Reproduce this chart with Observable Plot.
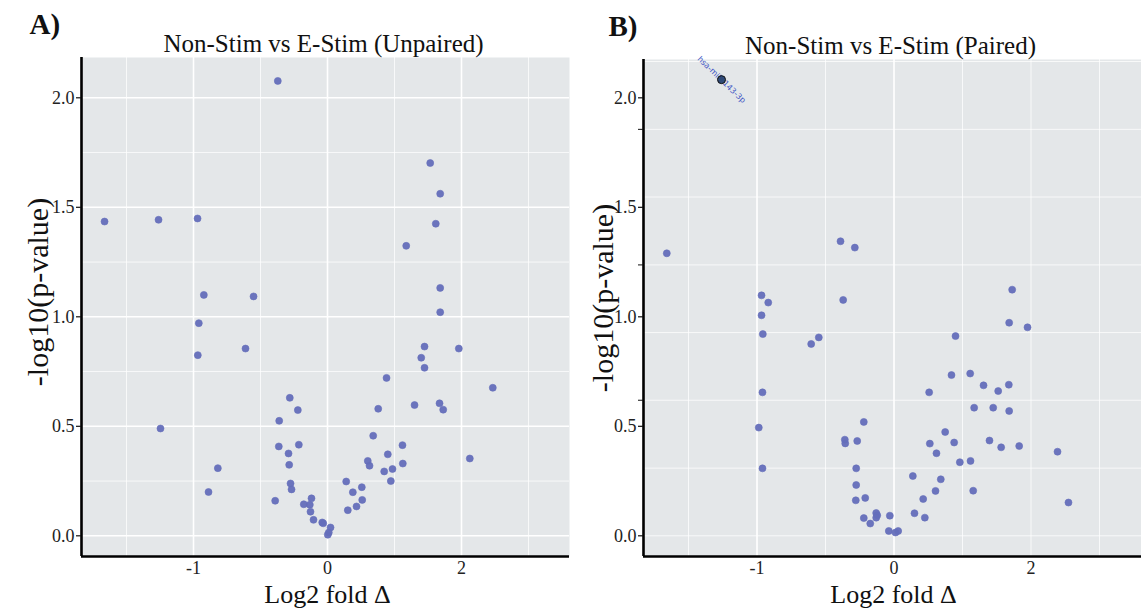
<!DOCTYPE html>
<html>
<head>
<meta charset="utf-8">
<script src="https://cdn.jsdelivr.net/npm/d3@7"></script>
<script src="https://cdn.jsdelivr.net/npm/@observablehq/plot@0.6"></script>
<style>
  html, body { margin: 0; padding: 0; background: #ffffff; }
  #wrap { position: relative; width: 1141px; height: 613px; overflow: hidden; }
  #wrap svg { position: absolute; top: 0; }
</style>
</head>
<body>
<div id="wrap"></div>
<script>
// ---- Data ----
const unpairedLog2FC = [-0.742,-3.328,-2.522,-1.940,-1.846,-1.104,-1.921,-1.936,-1.224,-2.493,-1.637,-1.776,
  -0.563,-0.443,-0.721,-0.727,-0.428,-0.582,-0.572,-0.552,-0.537,-0.781,-0.354,-0.264,-0.239,-0.254,-0.209,
  -0.079,-0.064,0.019,0.045,0.004,0.279,0.303,0.378,0.433,0.512,0.518,0.682,0.601,0.627,0.757,0.846,0.900,
  0.945,0.970,1.119,1.124,1.299,1.672,1.727,2.124,2.467,1.533,1.682,1.616,1.175,1.682,1.682,1.448,1.960,
  1.399,1.448,0.881];
const unpairedNegLog10P = [2.077,1.435,1.443,1.449,1.100,1.093,0.971,0.825,0.855,0.490,0.309,0.200,
  0.630,0.574,0.525,0.408,0.416,0.376,0.324,0.239,0.212,0.160,0.144,0.142,0.171,0.110,0.073,
  0.061,0.057,0.015,0.038,0.005,0.248,0.117,0.199,0.134,0.222,0.164,0.457,0.342,0.320,0.580,0.294,0.372,
  0.250,0.305,0.414,0.330,0.597,0.605,0.576,0.353,0.676,1.702,1.562,1.425,1.324,1.132,1.021,0.864,0.855,
  0.813,0.767,0.721];

const pairedLog2FC = [-3.317,-0.781,-0.572,-0.742,-1.934,-1.836,-1.934,-1.915,-1.098,-1.209,-1.920,-0.441,
  -1.974,-0.718,-0.712,-0.537,-1.920,-0.552,-0.552,-0.420,-0.558,-0.441,-0.347,-0.260,-0.245,-0.260,-0.061,
  -0.076,0.022,0.061,1.725,1.681,1.949,0.898,0.839,1.112,1.307,1.521,1.676,0.513,1.170,1.448,1.681,0.747,
  0.523,0.878,1.394,1.564,1.827,2.387,0.620,0.961,1.117,0.275,0.683,0.606,1.156,0.426,2.547,0.299,0.450];
const pairedNegLog10P = [1.290,1.345,1.316,1.077,1.098,1.065,1.007,0.921,0.906,0.876,0.655,0.520,
  0.494,0.439,0.422,0.433,0.308,0.308,0.232,0.173,0.162,0.081,0.056,0.104,0.094,0.083,0.092,
  0.022,0.015,0.022,1.124,0.973,0.952,0.912,0.734,0.741,0.687,0.661,0.690,0.655,0.585,0.585,0.570,0.474,
  0.421,0.426,0.435,0.404,0.410,0.384,0.377,0.336,0.342,0.273,0.258,0.205,0.206,0.168,0.152,0.103,0.083];

const highlightName = ["hsa-miR-143-3p"];
const highlightLog2FC = [-2.518];
const highlightNegLog10P = [2.083];

const xTickValues = [-2, 0, 2];
const xTickLabels = ["-1", "0", "2"];
const yTickValues = [0, 0.5, 1, 1.5, 2];
const pairedMinorYTicks = [0.619, 1.237, 1.856];

const gridXMajorA = [-2, 0, 2];
const gridXMinorA = [-3, -1, 1, 3];
const gridYMajorA = [0, 0.5, 1, 1.5, 2];
const gridYMinorA = [0.25, 0.75, 1.25, 1.75];
const gridXMajorB = [-2, 0];
const gridXMinorB = [-3, -1, 1, 2, 3];
const gridYB = [0, 0.309, 0.619, 0.928, 1.237, 1.547, 1.856, 2.166];

const panelTitles = ["Non-Stim vs E-Stim (Unpaired)", "Non-Stim vs E-Stim (Paired)"];
const panelLetters = ["A)", "B)"];
const xLabel = "Log2 fold \u0394";
const yLabel = "-log10(p-value)";

// ---- Build tables ----
const unpaired = unpairedLog2FC.map((x, i) => ({x, y: unpairedNegLog10P[i]}));
const paired = pairedLog2FC.map((x, i) => ({x, y: pairedNegLog10P[i]}));
const highlight = highlightName.map((name, i) => ({name, x: highlightLog2FC[i], y: highlightNegLog10P[i]}));

const BG = "#e4e7e9";
const DOT = "#646ebb";
const FONT = "'Liberation Serif', 'Times New Roman', serif";

function panel(cfg) {
  const xmin = cfg.xDomain[0], ymin = cfg.yDomain[0];
  const marks = [
    Plot.frame({fill: BG, stroke: null}),
    Plot.gridX(cfg.gridXMinor, {stroke: "#ffffff", strokeOpacity: 0.75, strokeWidth: 1}),
    Plot.gridX(cfg.gridXMajor, {stroke: "#ffffff", strokeOpacity: 1, strokeWidth: 1.6}),
    Plot.gridY(cfg.gridYMinor, {stroke: "#ffffff", strokeOpacity: 0.75, strokeWidth: 1}),
    Plot.gridY(cfg.gridYMajor, {stroke: "#ffffff", strokeOpacity: 1, strokeWidth: 1.6}),
    Plot.dot(cfg.data, {x: "x", y: "y", r: 3.5, fill: DOT, stroke: DOT, strokeWidth: 0.6, fillOpacity: 0.95}),
    Plot.ruleX([xmin], {stroke: "#000", strokeWidth: 2.6}),
    Plot.ruleY([ymin], {stroke: "#000", strokeWidth: 2.6}),
    Plot.axisY(yTickValues, {label: null, tickSize: 5, tickPadding: 2, tickFormat: d3.format(".1f"), fontSize: 18, fill: "#222", stroke: "#111", strokeWidth: 1.2}),
    Plot.axisX(xTickValues, {label: null, tickSize: 0, tickPadding: 5, tickFormat: d => xTickLabels[xTickValues.indexOf(d)], fontSize: 18, fill: "#222"}),
    Plot.text([cfg.title], {frameAnchor: "top", dx: cfg.titleDx, dy: -14, fontSize: 25, fill: "#111", lineAnchor: "middle"}),
    Plot.text([cfg.letter], {frameAnchor: "top-left", dx: cfg.letterDx, dy: -33, fontSize: 29, fontWeight: "bold", fill: "#111", textAnchor: "start", lineAnchor: "middle"}),
    Plot.text([xLabel], {frameAnchor: "bottom", dx: cfg.xLabelDx, dy: 38, fontSize: 26, fill: "#111", lineAnchor: "middle"}),
    Plot.text([yLabel], {frameAnchor: "left", dx: cfg.yLabelDx, dy: cfg.yLabelDy, fontSize: 30, fill: "#111", rotate: -90, textAnchor: "middle", lineAnchor: "middle"})
  ];
  if (cfg.minorYTicks) {
    marks.push(Plot.axisY(cfg.minorYTicks, {label: null, tickSize: 5, tickFormat: () => "", stroke: "#111", strokeWidth: 1}));
  }
  if (cfg.highlight) {
    marks.push(Plot.text(cfg.highlight, {x: "x", y: "y", text: "name", rotate: 44, fontSize: 8, fill: "#3f55c4", fontFamily: "DejaVu Sans"}));
    marks.push(Plot.dot(cfg.highlight, {x: "x", y: "y", r: 4, fill: "#2f4a78", stroke: "#111", strokeWidth: 1}));
  }
  const svg = Plot.plot({
    width: cfg.width,
    height: 613,
    marginLeft: cfg.marginLeft,
    marginRight: cfg.marginRight,
    marginTop: cfg.marginTop,
    marginBottom: 57,
    x: {domain: cfg.xDomain, label: null},
    y: {domain: cfg.yDomain, label: null},
    style: {fontFamily: FONT, fontSize: "18px", background: "transparent", color: "#111", overflow: "visible"},
    marks
  });
  svg.style.left = cfg.left + "px";
  return svg;
}

const wrap = document.getElementById("wrap");
wrap.appendChild(panel({
  left: 0, width: 572, marginLeft: 81, marginRight: 3, marginTop: 57,
  xDomain: [-3.672, 3.612], yDomain: [-0.0945, 2.184],
  data: unpaired,
  gridXMajor: gridXMajorA, gridXMinor: gridXMinorA, gridYMajor: gridYMajorA, gridYMinor: gridYMinorA,
  title: panelTitles[0], letter: panelLetters[0], titleDx: -2, letterDx: -52, xLabelDx: 2, yLabelDx: -43, yLabelDy: -15
}));
wrap.appendChild(panel({
  left: 570, width: 571, marginLeft: 73, marginRight: 0, marginTop: 59,
  xDomain: [-3.657, 3.613], yDomain: [-0.0945, 2.175],
  data: paired, highlight,
  gridXMajor: gridXMajorB, gridXMinor: gridXMinorB, gridYMajor: [], gridYMinor: gridYB,
  minorYTicks: pairedMinorYTicks,
  title: panelTitles[1], letter: panelLetters[1], titleDx: -2, letterDx: -35, xLabelDx: 1, yLabelDx: -40, yLabelDy: -10
}));
</script>
</body>
</html>
